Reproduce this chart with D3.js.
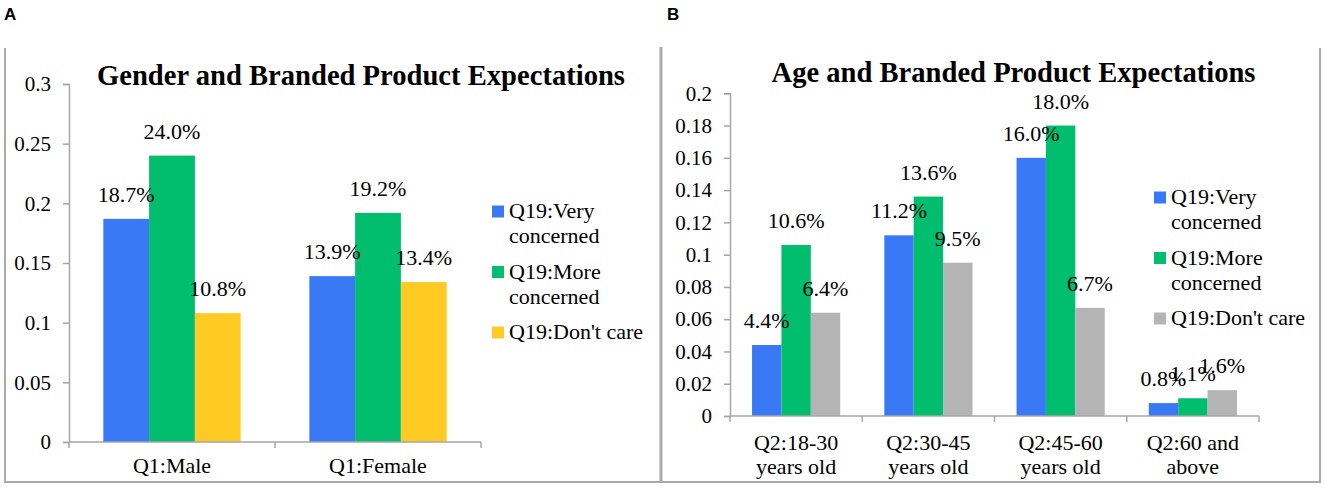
<!DOCTYPE html>
<html>
<head>
<meta charset="utf-8">
<script src="https://cdn.jsdelivr.net/npm/d3@7"></script>
<style>
    html, body { margin: 0; padding: 0; background: #fff; }
    svg { display: block; }
    text { font-family: "Liberation Serif", "Times New Roman", serif; fill: #000; }
</style>
</head>
<body>
<svg id="chart" width="1325" height="488"></svg>
<script>
// series (legend) names, split the way the legend wraps them
const seriesLines = [["Q19:Very", "concerned"], ["Q19:More", "concerned"], ["Q19:Don't care"]];

// panel A: gender
const genderCategories = [["Q1:Male"], ["Q1:Female"]];
const genderVery = [0.187, 0.139];
const genderMore = [0.240, 0.192];
const genderDont = [0.108, 0.134];
const genderTicks = [0, 0.05, 0.1, 0.15, 0.2, 0.25, 0.3];

// panel B: age
const ageCategories = [["Q2:18-30", "years old"], ["Q2:30-45", "years old"], ["Q2:45-60", "years old"], ["Q2:60 and", "above"]];
const ageVery = [0.044, 0.112, 0.160, 0.008];
const ageMore = [0.106, 0.136, 0.180, 0.011];
const ageDont = [0.064, 0.095, 0.067, 0.016];
const ageTicks = [0, 0.02, 0.04, 0.06, 0.08, 0.1, 0.12, 0.14, 0.16, 0.18, 0.2];

const axisColor = '#a6a6a6';
const pct = d3.format('.1%');
const tickFmt = d3.format('~g');

const svg = d3.select('#chart');

// grey frames round both panels
const frame = svg.append('g')
    .attr('fill', 'none')
    .attr('stroke', '#a9a9a9');
frame.append('path').attr('stroke-width', 2)
    .attr('d', 'M5,48V482H1320V48');
frame.append('line').attr('stroke-width', 3)
    .attr('x1', 661).attr('x2', 661).attr('y1', 47).attr('y2', 482);

svg.append('text').attr('x', 4).attr('y', 20)
    .style('font-family', '"Liberation Sans", Arial, sans-serif')
    .style('font-weight', 'bold').style('font-size', '17px')
    .text('A');
svg.append('text').attr('x', 667).attr('y', 20)
    .style('font-family', '"Liberation Sans", Arial, sans-serif')
    .style('font-weight', 'bold').style('font-size', '17px')
    .text('B');

function drawPanel(p) {
    const g = svg.append('g');
    const cats = p.categories.map(c => c.join(' '));

    const x0 = d3.scaleBand().domain(cats).range([p.left, p.right]);
    // excel gap width 150%: 3 bars + 1.5 bar gap per band
    const x1 = d3.scaleBand().domain([0, 1, 2]).range([0, x0.bandwidth()]).paddingOuter(0.75);
    const y = d3.scaleLinear().domain([0, p.yMax]).range([p.bottom, p.top]);

    // y axis
    const ya = g.append('g')
        .attr('transform', `translate(${p.left},0)`)
        .call(d3.axisLeft(y).tickValues(p.ticks).tickFormat(tickFmt).tickSize(6).tickPadding(12));
    ya.select('.domain').attr('stroke', axisColor).attr('stroke-width', 1.5);
    ya.selectAll('.tick line').attr('stroke', axisColor).attr('stroke-width', 1.5);
    ya.selectAll('.tick text')
        .style('font-family', '"Liberation Serif", "Times New Roman", serif')
        .style('font-size', '21px').attr('fill', '#000');

    // bars
    const series = [p.very, p.more, p.dont];
    series.forEach((vals, si) => {
        g.selectAll(null)
            .data(vals)
            .join('rect')
            .attr('x', (d, i) => x0(cats[i]) + x1(si))
            .attr('width', x1.bandwidth())
            .attr('y', d => y(d))
            .attr('height', d => y(0) - y(d))
            .attr('fill', p.colors[si]);
    });

    // value labels
    series.forEach((vals, si) => {
        g.selectAll(null)
            .data(vals)
            .join('text')
            .attr('x', (d, i) => x0(cats[i]) + x1(si) + x1.bandwidth() / 2)
            .attr('y', d => y(d) - 17)
            .attr('text-anchor', 'middle')
            .style('font-size', '22px')
            .text(d => pct(d));
    });

    // x axis: line, ticks on band edges, category names
    g.append('line')
        .attr('x1', p.left).attr('x2', p.right)
        .attr('y1', y(0)).attr('y2', y(0))
        .attr('stroke', axisColor).attr('stroke-width', 1.5);
    const edges = cats.map(c => x0(c)).concat([p.right]);
    g.selectAll(null)
        .data(edges)
        .join('line')
        .attr('x1', d => d).attr('x2', d => d)
        .attr('y1', y(0)).attr('y2', y(0) + 6)
        .attr('stroke', axisColor).attr('stroke-width', 1.5);
    g.selectAll(null)
        .data(p.categories)
        .join('text')
        .attr('x', (d, i) => x0(cats[i]) + x0.bandwidth() / 2)
        .attr('y', p.catY)
        .attr('text-anchor', 'middle')
        .style('font-size', '22px')
        .selectAll('tspan')
        .data(d => d)
        .join('tspan')
        .attr('x', function () { return this.parentNode.getAttribute('x'); })
        .attr('dy', (d, i) => i === 0 ? 0 : 24)
        .text(d => d);

    // title
    g.append('text')
        .attr('x', p.titleX).attr('y', p.titleY)
        .attr('text-anchor', 'middle')
        .attr('textLength', p.titleW)
        .attr('lengthAdjust', 'spacingAndGlyphs')
        .style('font-size', '28.5px').style('font-weight', 'bold')
        .text(p.title);

    // legend
    const lg = g.append('g');
    seriesLines.forEach((lines, si) => {
        const base = p.legendY + si * 60.5;
        lg.append('rect')
            .attr('x', p.legendX).attr('y', base - 12.5)
            .attr('width', 12).attr('height', 12)
            .attr('fill', p.colors[si]);
        lg.append('text')
            .attr('y', base)
            .style('font-size', '22px')
            .selectAll('tspan')
            .data(lines)
            .join('tspan')
            .attr('x', p.legendX + 17)
            .attr('dy', (d, i) => i === 0 ? 0 : 25)
            .text(d => d);
    });
}

drawPanel({
    title: 'Gender and Branded Product Expectations',
    titleX: 361, titleY: 85, titleW: 528,
    categories: genderCategories,
    very: genderVery, more: genderMore, dont: genderDont,
    ticks: genderTicks, yMax: 0.3,
    left: 69, right: 481, top: 84, bottom: 442,
    catY: 473,
    legendX: 492, legendY: 218,
    colors: ['#3a79f6', '#00be6e', '#ffca24'],
});

drawPanel({
    title: 'Age and Branded Product Expectations',
    titleX: 1013.5, titleY: 82, titleW: 484,
    categories: ageCategories,
    very: ageVery, more: ageMore, dont: ageDont,
    ticks: ageTicks, yMax: 0.2,
    left: 730, right: 1259, top: 93.3, bottom: 416,
    catY: 450,
    legendX: 1154, legendY: 204,
    colors: ['#3a79f6', '#00be6e', '#b4b4b4'],
});
</script>
</body>
</html>
